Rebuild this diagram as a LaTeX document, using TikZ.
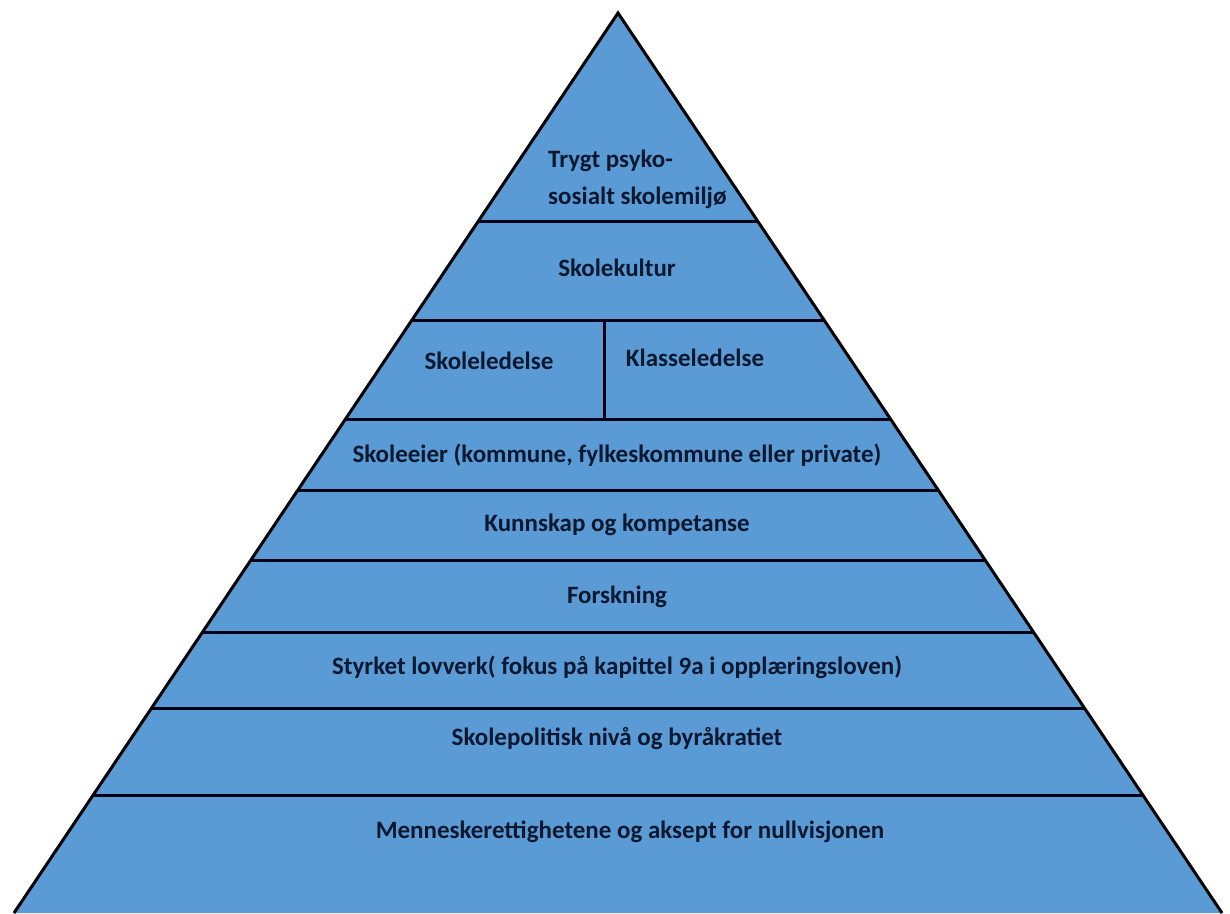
\documentclass[tikz,border=0pt]{standalone}
\usepackage{fontspec}
\setmainfont{Carlito}
\usetikzlibrary{calc}
\definecolor{pyrblue}{HTML}{5B9BD5}
\definecolor{txt}{HTML}{0B1830}
\tikzset{
  lbl/.style={font=\bfseries\fontsize{25}{37}\selectfont, text=txt, inner sep=0pt},
  sep/.style={draw=black!90!blue, line width=3pt},
}
\begin{document}
\begin{tikzpicture}[x=1pt,y=-1pt]
\useasboundingbox (0,0) rectangle (1230,913);
\coordinate (A) at (618,13);
\coordinate (L) at (14,913);
\coordinate (R) at (1222,913);
\fill[pyrblue] (A) -- (L) -- (R) -- cycle;
% horizontal separators at y = 221,320,420,490,560,632,708,795
\foreach \yy/\nm in {221/s1,320/s2,420/s3,490/s4,560/s5,632/s6,708/s7,795/s8}{
  \pgfmathsetmacro{\t}{(\yy-13)/900}
  \coordinate (\nm l) at ($(A)!\t!(L)$);
  \coordinate (\nm r) at ($(A)!\t!(R)$);
  \draw[sep] (\nm l) -- (\nm r);
}
\coordinate (vtop) at (604,320);
\coordinate (vbot) at (604,420);
\draw[sep] (vtop) -- (vbot);
\draw[line width=3pt, line join=miter] (L) -- (A) -- (R);
\node[lbl, align=left, anchor=west] (t1) at (548,179) {Trygt psyko-\\sosialt skolemiljø};
\node[lbl] (t2) at (617,268) {Skolekultur};
\node[lbl] (t3a) at (489,361) {Skoleledelse};
\node[lbl] (t3b) at (695,358) {Klasseledelse};
\node[lbl] (t4) at (617,455) {Skoleeier (kommune, fylkeskommune eller private)};
\node[lbl] (t5) at (617,525) {Kunnskap og kompetanse};
\node[lbl] (t6) at (617,597) {Forskning};
\node[lbl] (t7) at (617,667) {Styrket lovverk( fokus på kapittel 9a i opplæringsloven)};
\node[lbl] (t8) at (617,739) {Skolepolitisk nivå og byråkratiet};
\node[lbl] (t9) at (630,832) {Menneskerettighetene og aksept for nullvisjonen};
\end{tikzpicture}
\end{document}
